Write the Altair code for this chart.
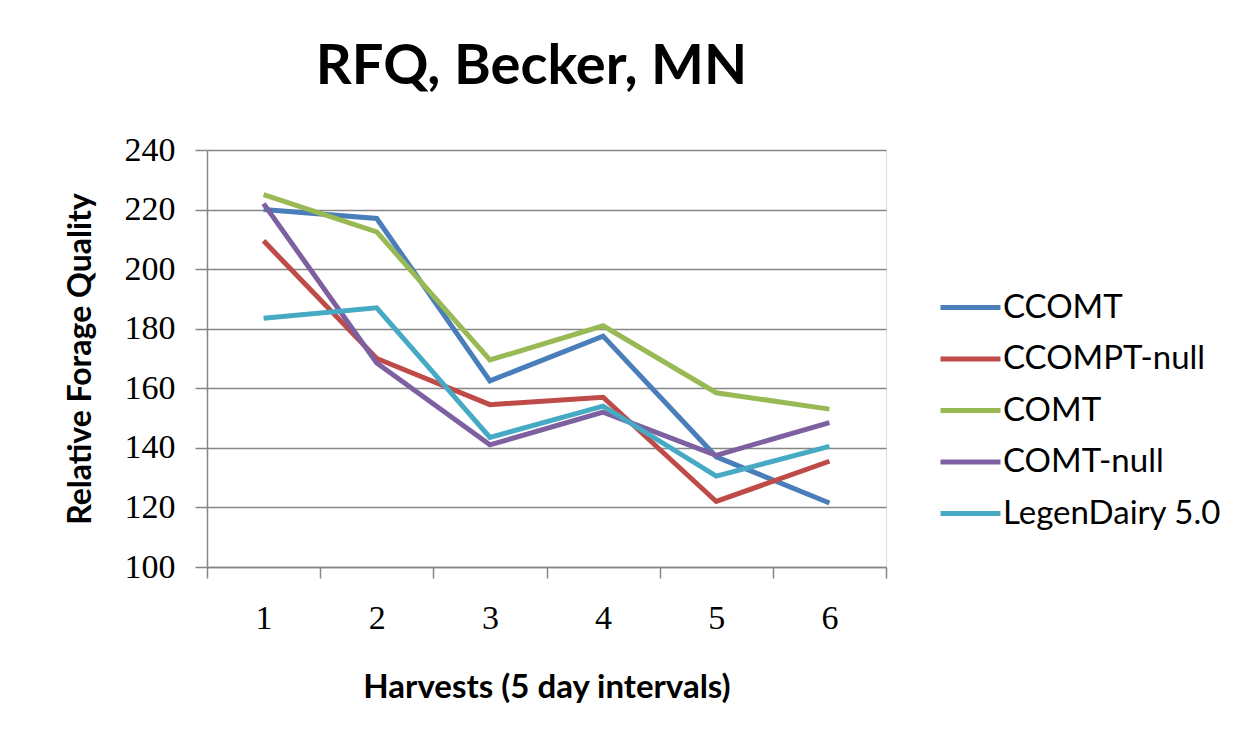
import altair as alt
import pandas as pd

harvests = [1, 2, 3, 4, 5, 6]
series_names = ["CCOMT", "CCOMPT-null", "COMT", "COMT-null", "LegenDairy 5.0"]
ccomt = [220, 217, 162.5, 177.5, 137, 121.5]
ccompt_null = [209.5, 170, 154.5, 157, 122, 135.5]
comt = [225, 212.5, 169.5, 181, 158.5, 153]
comt_null = [222, 168.5, 141, 152, 137.5, 148.5]
legendairy = [183.5, 187, 143.5, 154, 130.5, 140.5]
colors = ["#4A7EBB", "#BE4B48", "#98B954", "#7D60A0", "#46AAC5"]
y_ticks = [100, 120, 140, 160, 180, 200, 220, 240]
x_ticks = [0.5, 1, 1.5, 2, 2.5, 3, 3.5, 4, 4.5, 5, 5.5, 6, 6.5]

rows = []
for name, vals in zip(series_names, [ccomt, ccompt_null, comt, comt_null, legendairy]):
    for h, v in zip(harvests, vals):
        rows.append({"Harvest": h, "RFQ": v, "Series": name})
df = pd.DataFrame(rows)

GRAY = "#868686"
SANS = "Lato"
SERIF = "Liberation Serif"

chart = alt.Chart(df).mark_line(strokeWidth=5).encode(
    x=alt.X(
        "Harvest:Q",
        scale=alt.Scale(domain=[0.5, 6.5], nice=False, zero=False),
        axis=alt.Axis(
            title="Harvests (5 day intervals)",
            values=x_ticks,
            labelExpr="datum.value % 1 == 0 ? format(datum.value, 'd') : ''",
            tickColor=alt.condition("datum.value % 1 == 0", alt.value("transparent"), alt.value(GRAY)),
            tickSize=11,
            tickWidth=1.5,
            labelPadding=23,
            labelFlush=False,
            labelOverlap=False,
            labelFont=SERIF,
            labelFontSize=34,
            labelColor="black",
            grid=False,
            domainColor=GRAY,
            domainWidth=1.5,
            titleFont=SANS,
            titleFontSize=33,
            titleFontWeight="bold",
            titleColor="black",
            titleX=339.5,
            titleY=130,
            titleBaseline="alphabetic",
        ),
    ),
    y=alt.Y(
        "RFQ:Q",
        scale=alt.Scale(domain=[100, 240], nice=False, zero=False),
        axis=alt.Axis(
            title="Relative Forage Quality",
            values=y_ticks,
            tickSize=12,
            tickWidth=1.5,
            tickColor=GRAY,
            labelPadding=20,
            labelFont=SERIF,
            labelFontSize=34,
            labelColor="black",
            grid=True,
            gridColor=GRAY,
            gridWidth=1.5,
            domainColor=GRAY,
            domainWidth=1.5,
            titleFont=SANS,
            titleFontSize=32,
            titleFontWeight="bold",
            titleColor="black",
            titleAngle=270,
            titleX=-117,
            titleY=208.5,
            titleBaseline="alphabetic",
            titleAlign="center",
        ),
    ),
    color=alt.Color(
        "Series:N",
        scale=alt.Scale(domain=series_names, range=colors),
        legend=alt.Legend(
            title=None,
            orient="none",
            legendX=731,
            legendY=125,
            symbolType="stroke",
            symbolSize=3600,
            symbolStrokeWidth=5,
            labelFont=SANS,
            labelFontSize=33,
            labelColor="black",
            labelOffset=0,
            labelLimit=400,
            rowPadding=1.5,
            padding=0,
        ),
    ),
).properties(
    width=679,
    height=417,
    padding={"left": 199, "top": 142, "right": 340, "bottom": 160},
    autosize=alt.AutoSizeParams(type="none"),
    title=alt.TitleParams(
        "RFQ, Becker, MN",
        font=SANS,
        fontSize=56,
        fontWeight="bold",
        color="black",
        anchor="middle",
        frame="group",
        dx=-15,
        dy=50,
        offset=43,
        baseline="alphabetic",
    ),
).configure_view(stroke=None).configure(background="white")

chart.save("out.html", embed_options={"renderer": "svg", "actions": False})
